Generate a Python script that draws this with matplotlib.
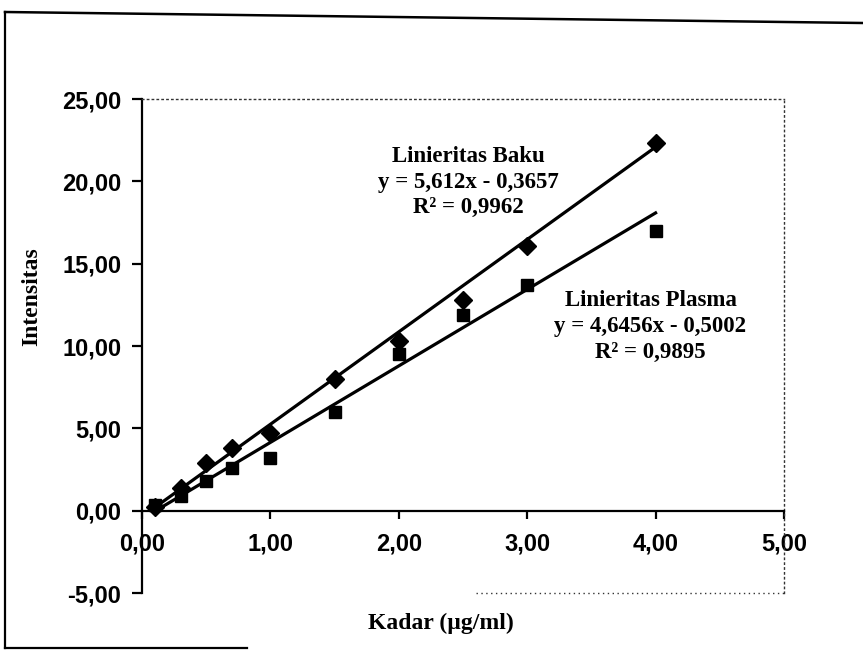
import numpy as np
import matplotlib
matplotlib.use("Agg")
import matplotlib.pyplot as plt
from matplotlib.lines import Line2D
from matplotlib.ticker import FuncFormatter, MultipleLocator

# data
kadar = [0.1, 0.3, 0.5, 0.7, 1.0, 1.5, 2.0, 2.5, 3.0, 4.0]
baku = [0.25, 1.4, 2.9, 3.8, 4.7, 8.0, 10.3, 12.8, 16.1, 22.3]
plasma = [0.35, 0.9, 1.8, 2.6, 3.2, 6.0, 9.5, 11.9, 13.7, 17.0]

# trendline equations as printed on the chart
baku_fit = [5.612, -0.3657]
plasma_fit = [4.6456, -0.5002]
baku_label = "Linieritas Baku\ny = 5,612x - 0,3657\nR\u00b2 = 0,9962"
plasma_label = "Linieritas Plasma\ny = 4,6456x - 0,5002\nR\u00b2 = 0,9895"

W, H = 863, 654
fig = plt.figure(figsize=(W / 100, H / 100), dpi=100)
ax = fig.add_axes([142 / W, 1 - 593 / H, (784 - 142) / W, (593 - 99) / H])

serif = "Liberation Serif"
sans = "Liberation Sans"

# trendlines over the data range
xs = np.array([min(kadar), max(kadar)])
ax.plot(xs, np.polyval(baku_fit, xs), color="black", lw=2.3, zorder=2)
ax.plot(xs, np.polyval(plasma_fit, xs), color="black", lw=2.3, zorder=2)

ax.plot(kadar, baku, linestyle="none", marker="D", ms=9.5, color="black", zorder=3)
ax.plot(kadar, plasma, linestyle="none", marker="s", ms=8, color="black", zorder=3)

ax.set_xlim(0, 5)
ax.set_ylim(-5, 25)
ax.xaxis.set_major_locator(MultipleLocator(1))
ax.yaxis.set_major_locator(MultipleLocator(5))
fmt = FuncFormatter(lambda v, p: f"{v:.2f}".replace(".", ","))
ax.xaxis.set_major_formatter(fmt)
ax.yaxis.set_major_formatter(fmt)

# excel style: x axis crosses at y = 0
ax.spines["bottom"].set_position(("data", 0))
ax.spines["bottom"].set_linewidth(1.6)
ax.spines["left"].set_linewidth(1.6)
for s in ["top", "right"]:
    ax.spines[s].set_linestyle((0, (1, 2.5)))
    ax.spines[s].set_linewidth(1.0)
    ax.spines[s].set_color("#333333")
ax.axhline(-5, xmin=0.52, xmax=1, color="#333333", lw=1.0, ls=(0, (1, 2.5)), clip_on=False)

ax.tick_params(axis="x", direction="out", length=5.5, width=1.6, pad=10)
ax.tick_params(axis="y", direction="out", length=7, width=1.6, pad=8)
for lab in ax.get_xticklabels() + ax.get_yticklabels():
    lab.set_fontfamily(sans)
    lab.set_fontweight("bold")
    lab.set_fontsize(17)

ax.set_ylabel("Intensitas", fontfamily=serif, fontweight="bold", fontsize=17)
ax.yaxis.set_label_coords(-0.155, 0.60)
ax.set_xlabel("Kadar (\u00b5g/ml)", fontfamily=serif, fontweight="bold", fontsize=17)
ax.xaxis.set_label_coords(0.466, -0.04)

ax.text(2.54, 19.95, baku_label, ha="center", va="center", fontfamily=serif,
        fontweight="bold", fontsize=16.5, linespacing=1.3)
ax.text(3.96, 11.2, plasma_label, ha="center", va="center", fontfamily=serif,
        fontweight="bold", fontsize=16.5, linespacing=1.3)

# outer chart frame (scanned, only partly visible)
fig.add_artist(Line2D([5 / W, 5 / W], [1 - 648 / H, 1 - 12 / H], color="black", lw=1.6))
fig.add_artist(Line2D([5 / W, 1.0], [1 - 12 / H, 1 - 23 / H], color="black", lw=1.8))
fig.add_artist(Line2D([5 / W, 247 / W], [1 - 648 / H, 1 - 648 / H], color="black", lw=1.6))

fig.savefig("out.png", dpi=100, facecolor="white")
